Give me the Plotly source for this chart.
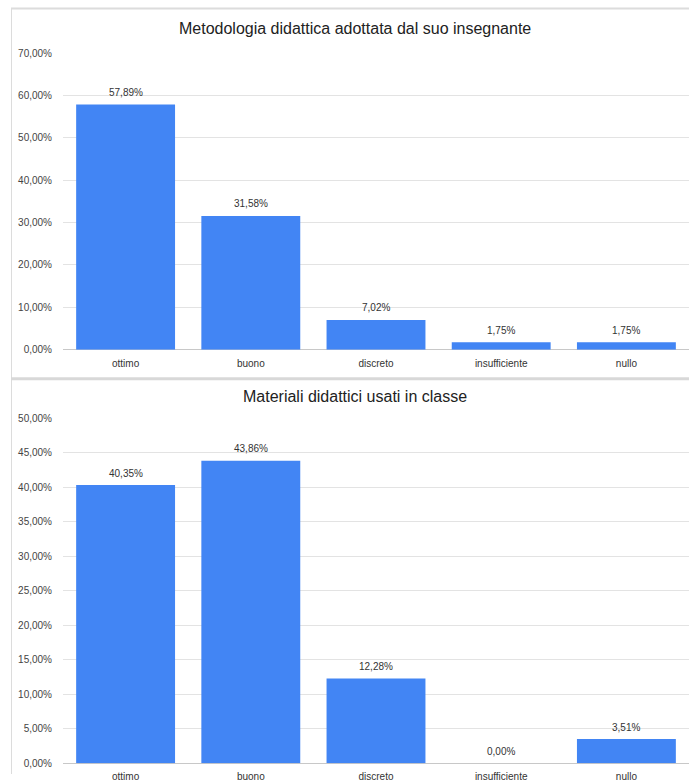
import plotly.graph_objects as go
from plotly.subplots import make_subplots

categories = ["ottimo", "buono", "discreto", "insufficiente", "nullo"]
metodologia = [57.89, 31.58, 7.02, 1.75, 1.75]
materiali = [40.35, 43.86, 12.28, 0.00, 3.51]
title_top = "Metodologia didattica adottata dal suo insegnante"
title_bottom = "Materiali didattici usati in classe"

W, H = 689, 782
def py(p):
    return 1 - p / H
def px(p):
    return p / W

fig = make_subplots(rows=2, cols=1)
BLUE = "#4285F4"
FONT = "Liberation Sans, Arial, sans-serif"

annos = []
for i, vals in enumerate([metodologia, materiali], start=1):
    fig.add_trace(go.Bar(
        x=categories, y=vals, marker=dict(color=BLUE, line=dict(width=0)),
        showlegend=False, hoverinfo="skip"),
        row=i, col=1)
    suffix = "" if i == 1 else "2"
    for c, v in zip(categories, vals):
        annos.append(dict(
            x=c, y=v, xref="x" + suffix, yref="y" + suffix,
            text=f"{v:.2f}%".replace(".", ","), showarrow=False,
            yanchor="middle", yshift=12,
            font=dict(size=10, color="#333333", family=FONT)))

xax = dict(domain=[px(63), 1.0], showgrid=False, showline=False,
           ticks="outside", ticklen=4, tickcolor="rgba(0,0,0,0)",
           tickfont=dict(size=10, color="#333333"))
fig.update_layout(
    width=W, height=H, margin=dict(l=0, r=0, t=0, b=0),
    paper_bgcolor="white", plot_bgcolor="white",
    separators=",.", bargap=0.21,
    font=dict(family=FONT, size=10, color="#444444"),
    xaxis=xax, xaxis2=xax,
    yaxis=dict(domain=[py(350), py(48)], range=[0, 70], dtick=10,
               tickformat=".2f", ticksuffix="%", gridcolor="#e3e3e3",
               zeroline=True, zerolinecolor="#c8c8c8", zerolinewidth=1,
               ticks="outside", ticklen=8, tickcolor="rgba(0,0,0,0)",
               tickfont=dict(size=10, color="#444444")),
    yaxis2=dict(domain=[py(771), py(420)], range=[0, 50], dtick=5,
                tickformat=".2f", ticksuffix="%", gridcolor="#e3e3e3",
                zeroline=True, zerolinecolor="#c8c8c8", zerolinewidth=1,
                ticks="outside", ticklen=8, tickcolor="rgba(0,0,0,0)",
                tickfont=dict(size=10, color="#444444")),
    annotations=annos + [
        dict(text=title_top, x=px(355), y=py(22.5), xref="paper", yref="paper",
             xanchor="center", yanchor="middle", showarrow=False,
             font=dict(size=16, color="#222222", family=FONT)),
        dict(text=title_bottom, x=px(355), y=py(398), xref="paper", yref="paper",
             xanchor="center", yanchor="middle", showarrow=False,
             font=dict(size=16, color="#222222", family=FONT)),
    ],
    shapes=[
        dict(type="line", xref="paper", yref="paper", x0=px(11), x1=1, y0=py(2.5), y1=py(2.5),
             line=dict(color="#dcdcdc", width=2)),
        dict(type="line", xref="paper", yref="paper", x0=px(11.5), x1=px(11.5), y0=py(2.5), y1=0,
             line=dict(color="#dcdcdc", width=1)),
        dict(type="line", xref="paper", yref="paper", x0=px(11), x1=1, y0=py(379.5), y1=py(379.5),
             line=dict(color="#d8d8d8", width=3)),
    ],
)

post = ("document.body.style.margin='0';document.body.style.padding='0';"
        "document.body.style.overflow='hidden';"
        "document.documentElement.style.overflow='hidden';")
fig.write_html("out.html", post_script=post, config={"displayModeBar": False})
